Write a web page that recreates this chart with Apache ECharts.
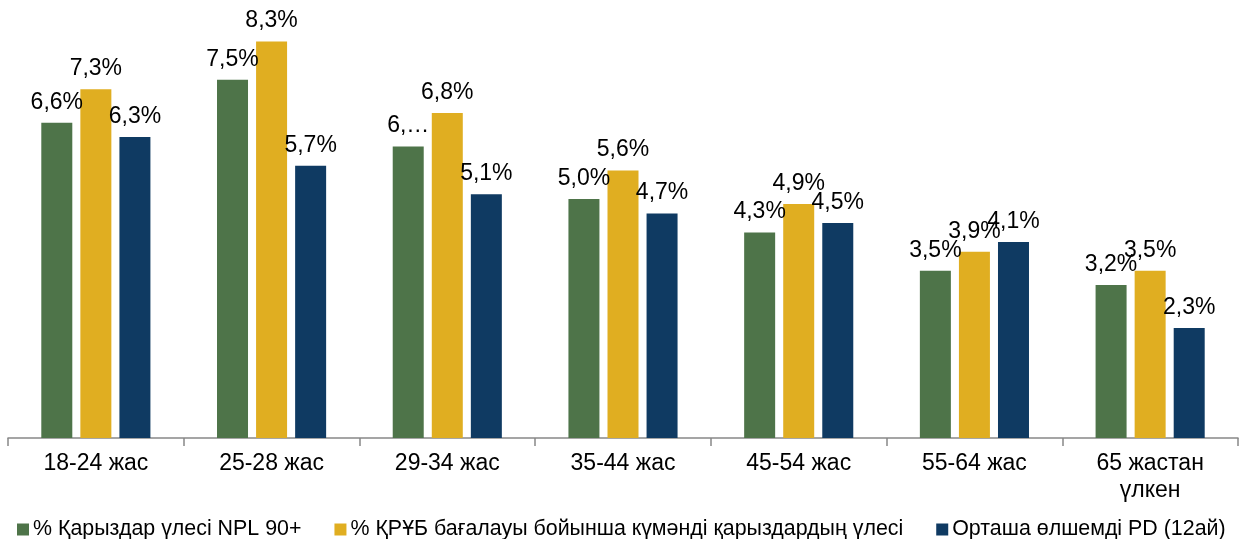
<!DOCTYPE html>
<html>
<head>
<meta charset="utf-8">
<script src="https://cdn.jsdelivr.net/npm/echarts@6/dist/echarts.min.js"></script>
<style>
  html, body { margin: 0; padding: 0; background: #fff; }
  #chart { width: 1241px; height: 539px; }
</style>
</head>
<body>
<div id="chart"></div>
<script>
// Age groups on the category axis
const categories = ['18-24 жас', '25-28 жас', '29-34 жас', '35-44 жас', '45-54 жас', '55-64 жас', '65 жастан\nүлкен'];

// Series names
const seriesNames = [
  '% Қарыздар үлесі NPL 90+',
  '% ҚРҰБ бағалауы бойынша күмәнді қарыздардың үлесі',
  'Орташа өлшемді PD (12ай)'
];

// Values, percent
const nplShare = [6.6, 7.5, 6.1, 5.0, 4.3, 3.5, 3.2];
const doubtfulShare = [7.3, 8.3, 6.8, 5.6, 4.9, 3.9, 3.5];
const avgPD = [6.3, 5.7, 5.1, 4.7, 4.5, 4.1, 2.3];

// Label that did not fit above its bar (shown shortened)
const shortLabels = { 0: { 2: '6,…' } };

const colors = ['#4E7449', '#E0AE21', '#0F3A62'];
const FONT = 'Liberation Sans, Arial, sans-serif';

function pct(v) { return v.toFixed(1).replace('.', ',') + '%'; }

function makeSeries(idx, values) {
  return {
    name: seriesNames[idx],
    type: 'bar',
    barWidth: 31,
    barGap: '26%',
    itemStyle: { color: colors[idx] },
    label: {
      show: true,
      position: 'top',
      distance: 9,
      color: '#000',
      fontFamily: FONT,
      fontSize: 23,
      formatter: function (p) {
        const s = shortLabels[idx];
        if (s && s[p.dataIndex] !== undefined) return s[p.dataIndex];
        return pct(p.value);
      }
    },
    data: values
  };
}

const chart = echarts.init(document.getElementById('chart'));
chart.setOption({
  animation: false,
  grid: { left: 8, right: 3, top: 8, bottom: 101, containLabel: false },
  legend: {
    top: 514,
    left: 12,
    itemWidth: 12,
    itemHeight: 12,
    itemGap: 33,
    icon: 'rect',
    textStyle: { fontFamily: FONT, fontSize: 21.4, color: '#000', padding: [0, 0, 0, -1] },
    data: seriesNames
  },
  xAxis: {
    type: 'category',
    data: categories,
    axisLine: { lineStyle: { color: '#888', width: 1.5 } },
    axisTick: { show: true, length: 8, lineStyle: { color: '#888', width: 1.5 } },
    axisLabel: {
      color: '#000',
      fontFamily: FONT,
      fontSize: 23,
      lineHeight: 27,
      margin: 12
    }
  },
  yAxis: {
    type: 'value',
    min: 0,
    max: 9,
    show: false,
    splitLine: { show: false }
  },
  series: [
    makeSeries(0, nplShare),
    makeSeries(1, doubtfulShare),
    makeSeries(2, avgPD)
  ]
});
</script>
</body>
</html>
